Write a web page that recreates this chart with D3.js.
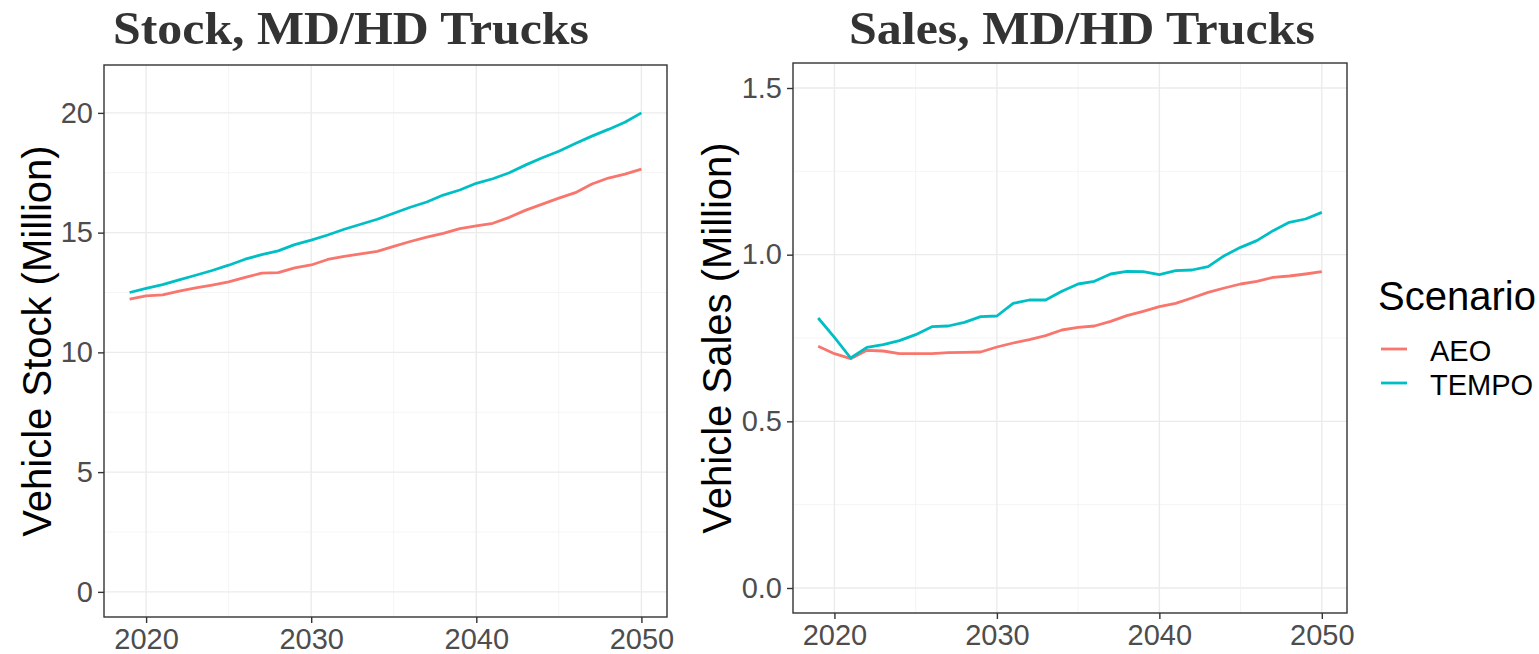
<!DOCTYPE html>
<html>
<head>
<meta charset="utf-8">
<script src="https://cdn.jsdelivr.net/npm/d3@7"></script>
<style>
  body { margin: 0; background: #fff; }
  svg { display: block; }
  .tick text { font-family: "Liberation Sans", Arial, sans-serif; fill: #4d4d4d; }
</style>
</head>
<body>
<div id="chart"></div>
<script>
const WIDTH = 1539;
const HEIGHT = 654;

const years = d3.range(2019, 2051);
const scenarios = ['AEO', 'TEMPO'];
const colors = ['#F8766D', '#00BFC4'];

// million vehicles
const stockAEO = [12.22, 12.36, 12.40, 12.56, 12.69, 12.81, 12.94, 13.13, 13.31, 13.33,
  13.53, 13.65, 13.88, 14.01, 14.11, 14.22, 14.43, 14.63, 14.81, 14.97,
  15.17, 15.28, 15.39, 15.64, 15.94, 16.19, 16.44, 16.67, 17.03, 17.28, 17.44, 17.65];
const stockTEMPO = [12.50, 12.67, 12.83, 13.03, 13.22, 13.42, 13.64, 13.89, 14.08, 14.24,
  14.50, 14.69, 14.90, 15.14, 15.35, 15.56, 15.81, 16.06, 16.28, 16.57,
  16.78, 17.06, 17.25, 17.50, 17.83, 18.13, 18.40, 18.72, 19.03, 19.31, 19.61, 20.00];

const salesAEO = [0.725, 0.703, 0.688, 0.713, 0.711, 0.703, 0.703, 0.703, 0.706, 0.707,
  0.708, 0.723, 0.735, 0.745, 0.757, 0.774, 0.782, 0.786, 0.800, 0.817,
  0.830, 0.844, 0.854, 0.870, 0.887, 0.900, 0.912, 0.920, 0.932, 0.936, 0.942, 0.949];
const salesTEMPO = [0.810, 0.752, 0.690, 0.722, 0.730, 0.742, 0.760, 0.784, 0.786, 0.797,
  0.814, 0.816, 0.854, 0.864, 0.864, 0.890, 0.912, 0.920, 0.942, 0.950,
  0.949, 0.940, 0.952, 0.954, 0.964, 0.997, 1.022, 1.042, 1.072, 1.097, 1.107, 1.127];

const xTicks = [2020, 2030, 2040, 2050];
const xMinor = [2025, 2035, 2045];
const stockTicks = [0, 5, 10, 15, 20];
const stockMinor = [2.5, 7.5, 12.5, 17.5];
const salesTicks = [0, 0.5, 1.0, 1.5];
const salesMinor = [0.25, 0.75, 1.25];

const svg = d3.select('#chart')
  .append('svg')
  .attr('width', WIDTH)
  .attr('height', HEIGHT);

svg.append('rect').attr('width', WIDTH).attr('height', HEIGHT).attr('fill', '#fff');

const panels = [
  {
    title: 'Stock, MD/HD Trucks', titleX: 351, titleW: 476,
    yLabel: 'Vehicle Stock (Million)', yLabelX: 51,
    left: 104, right: 667, top: 65, bottom: 617,
    yDomain: [-1.05, 22.0], yTicks: stockTicks, yMinor: stockMinor,
    yFormat: d3.format('d'),
    series: [stockAEO, stockTEMPO]
  },
  {
    title: 'Sales, MD/HD Trucks', titleX: 1082, titleW: 466,
    yLabel: 'Vehicle Sales (Million)', yLabelX: 731,
    left: 793, right: 1347, top: 63, bottom: 613,
    yDomain: [-0.075, 1.575], yTicks: salesTicks, yMinor: salesMinor,
    yFormat: d3.format('.1f'),
    series: [salesAEO, salesTEMPO]
  }
];

panels.forEach(p => {
  let x = d3.scaleLinear().domain([2017.45, 2051.55]).range([p.left, p.right]);
  let y = d3.scaleLinear().domain(p.yDomain).range([p.bottom, p.top]);

  let g = svg.append('g');

  // grid
  g.selectAll('.vminor').data(xMinor).enter().append('line')
    .attr('x1', d => x(d)).attr('x2', d => x(d))
    .attr('y1', p.top).attr('y2', p.bottom)
    .attr('stroke', '#f2f2f2').attr('stroke-width', 0.8);
  g.selectAll('.hminor').data(p.yMinor).enter().append('line')
    .attr('x1', p.left).attr('x2', p.right)
    .attr('y1', d => y(d)).attr('y2', d => y(d))
    .attr('stroke', '#f2f2f2').attr('stroke-width', 0.8);
  g.selectAll('.vmajor').data(xTicks).enter().append('line')
    .attr('x1', d => x(d)).attr('x2', d => x(d))
    .attr('y1', p.top).attr('y2', p.bottom)
    .attr('stroke', '#ebebeb').attr('stroke-width', 1.4);
  g.selectAll('.hmajor').data(p.yTicks).enter().append('line')
    .attr('x1', p.left).attr('x2', p.right)
    .attr('y1', d => y(d)).attr('y2', d => y(d))
    .attr('stroke', '#ebebeb').attr('stroke-width', 1.4);

  // lines
  let line = d3.line().x((d, i) => x(years[i])).y(d => y(d));
  p.series.forEach((s, i) => {
    g.append('path')
      .datum(s)
      .attr('d', line)
      .attr('fill', 'none')
      .attr('stroke', colors[i])
      .attr('stroke-width', 2.8)
      .attr('stroke-linejoin', 'round');
  });

  // border
  g.append('rect')
    .attr('x', p.left).attr('y', p.top)
    .attr('width', p.right - p.left).attr('height', p.bottom - p.top)
    .attr('fill', 'none').attr('stroke', '#333').attr('stroke-width', 1.4);

  // axes
  let xAxis = d3.axisBottom(x).tickValues(xTicks).tickFormat(d3.format('d'))
    .tickSize(6).tickPadding(5);
  let yAxis = d3.axisLeft(y).tickValues(p.yTicks).tickFormat(p.yFormat)
    .tickSize(6).tickPadding(5);

  let gx = g.append('g').attr('transform', `translate(0, ${p.bottom})`).call(xAxis);
  let gy = g.append('g').attr('transform', `translate(${p.left}, 0)`).call(yAxis);
  [gx, gy].forEach(a => {
    a.select('.domain').remove();
    a.selectAll('.tick line').attr('stroke', '#333').attr('stroke-width', 1.4);
    a.selectAll('.tick text').style('font-size', '29px');
  });

  // titles
  svg.append('text')
    .attr('x', p.titleX).attr('y', 44)
    .attr('text-anchor', 'middle')
    .attr('textLength', p.titleW)
    .attr('lengthAdjust', 'spacingAndGlyphs')
    .style('font-family', '"Liberation Serif", "Times New Roman", serif')
    .style('font-weight', 'bold')
    .style('font-size', '47px')
    .style('fill', '#333')
    .text(p.title);

  svg.append('text')
    .attr('transform', `translate(${p.yLabelX}, ${(p.top + p.bottom) / 2}) rotate(-90)`)
    .attr('text-anchor', 'middle')
    .style('font-family', '"Liberation Sans", Arial, sans-serif')
    .style('font-size', '40px')
    .style('fill', '#000')
    .text(p.yLabel);
});

// legend
let legend = svg.append('g');
legend.append('text')
  .attr('x', 1378).attr('y', 310)
  .style('font-family', '"Liberation Sans", Arial, sans-serif')
  .style('font-size', '40px')
  .style('fill', '#000')
  .text('Scenario');

scenarios.forEach((name, i) => {
  let cy = 349 + i * 34;
  legend.append('line')
    .attr('x1', 1381).attr('x2', 1407)
    .attr('y1', cy).attr('y2', cy)
    .attr('stroke', colors[i]).attr('stroke-width', 2.8);
  legend.append('text')
    .attr('x', 1430).attr('y', cy + 12)
    .style('font-family', '"Liberation Sans", Arial, sans-serif')
    .style('font-size', '29px')
    .style('fill', '#000')
    .text(name);
});
</script>
</body>
</html>
